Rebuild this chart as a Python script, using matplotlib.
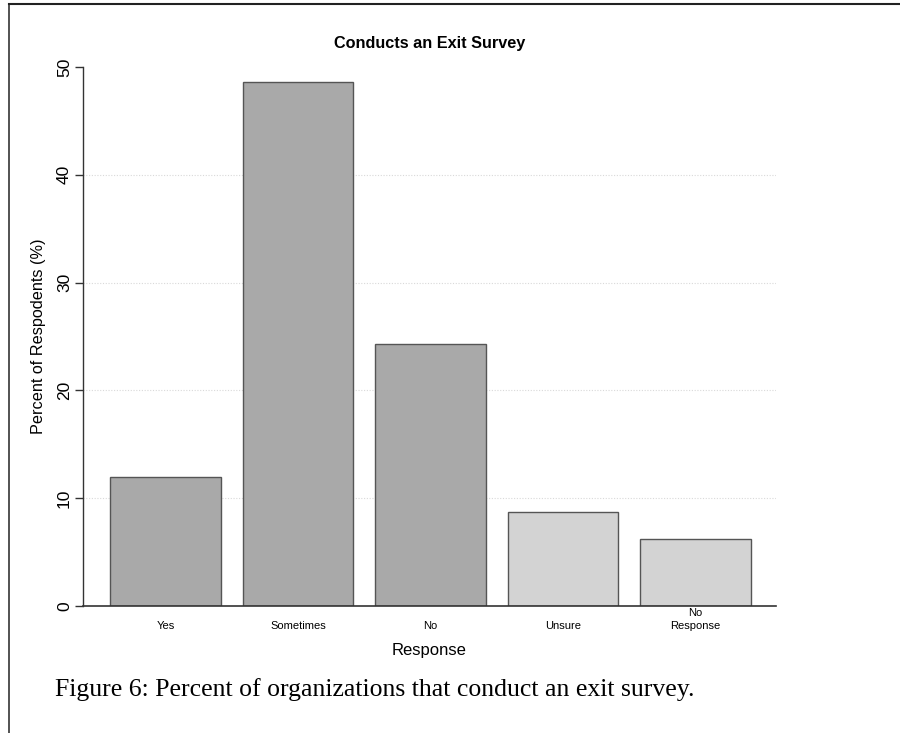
import matplotlib
matplotlib.use("Agg")
import matplotlib.pyplot as plt
from matplotlib.lines import Line2D

categories = ["Yes", "Sometimes", "No", "Unsure", "No\nResponse"]
percents = [12.0, 48.6, 24.3, 8.7, 6.2]
bar_colors = ["#A9A9A9", "#A9A9A9", "#A9A9A9", "#D3D3D3", "#D3D3D3"]
y_ticks = [0, 10, 20, 30, 40, 50]
grid_levels = [10, 20, 30, 40]

W, H = 900, 733
fig = plt.figure(figsize=(W / 100, H / 100), dpi=100)
plt.rcParams["font.family"] = ["Liberation Sans", "DejaVu Sans"]

# plot region in pixel terms
left_px, right_px, top_px, bottom_px = 83, 776, 67, 606
ax = fig.add_axes([left_px / W, 1 - bottom_px / H,
                   (right_px - left_px) / W, (bottom_px - top_px) / H])

width, space = 1.0, 0.2
lefts = [space + i * (width + space) for i in range(len(categories))]
centers = [l + width / 2 for l in lefts]

ax.set_xlim(-0.045, 6.227)
ax.set_ylim(0, 50)

for g in grid_levels:
    ax.axhline(g, color="#D9D9D9", lw=0.8, ls=(0, (1, 1.5)), zorder=0)

ax.bar(centers, percents, width=width, color=bar_colors,
       edgecolor="#555555", linewidth=1.0, zorder=2)
ax.axhline(0, color="#333333", lw=1.2, zorder=3, clip_on=False)

for s in ["top", "right", "bottom"]:
    ax.spines[s].set_visible(False)
ax.spines["left"].set_color("#333333")
ax.spines["left"].set_linewidth(1.0)

ax.set_yticks(y_ticks)
ax.set_yticklabels([str(t) for t in y_ticks], rotation=90, va="center",
                   fontsize=12.5)
ax.tick_params(axis="y", length=6, width=1.0, color="#333333", pad=2)
ax.set_xticks([])

# category labels: the last line of each label sits on a common row
row_y = 1 - 626 / H
line_step = 13 / H
for c, lab in zip(centers, categories):
    lines = lab.split("\n")
    xf = fig.transFigure.inverted().transform(ax.transData.transform((c, 0)))[0]
    for k, line in enumerate(reversed(lines)):
        fig.text(xf, row_y + k * line_step, line, ha="center", va="center",
                 fontsize=8)

ax.set_title("Conducts an Exit Survey", fontsize=11.7, fontweight="bold", pad=14)
ax.set_ylabel("Percent of Respodents (%)", fontsize=11.7)
ax.yaxis.set_label_coords((46 - left_px) / (right_px - left_px), 0.5)
fig.text((left_px + right_px) / 2 / W, 1 - 651 / H, "Response",
         ha="center", va="center", fontsize=12)

fig.text(55 / W, 1 - 690 / H,
         "Figure 6: Percent of organizations that conduct an exit survey.",
         family="Liberation Serif", fontsize=18.5, ha="left", va="center")

# page border
fig.add_artist(Line2D([9 / W, 9 / W], [0, 1 - 4 / H], color="#444444", lw=1.3,
                      transform=fig.transFigure))
fig.add_artist(Line2D([9 / W, 1], [1 - 4 / H, 1 - 4 / H], color="#222222", lw=1.5,
                      transform=fig.transFigure))

fig.savefig("out.png", dpi=100)
